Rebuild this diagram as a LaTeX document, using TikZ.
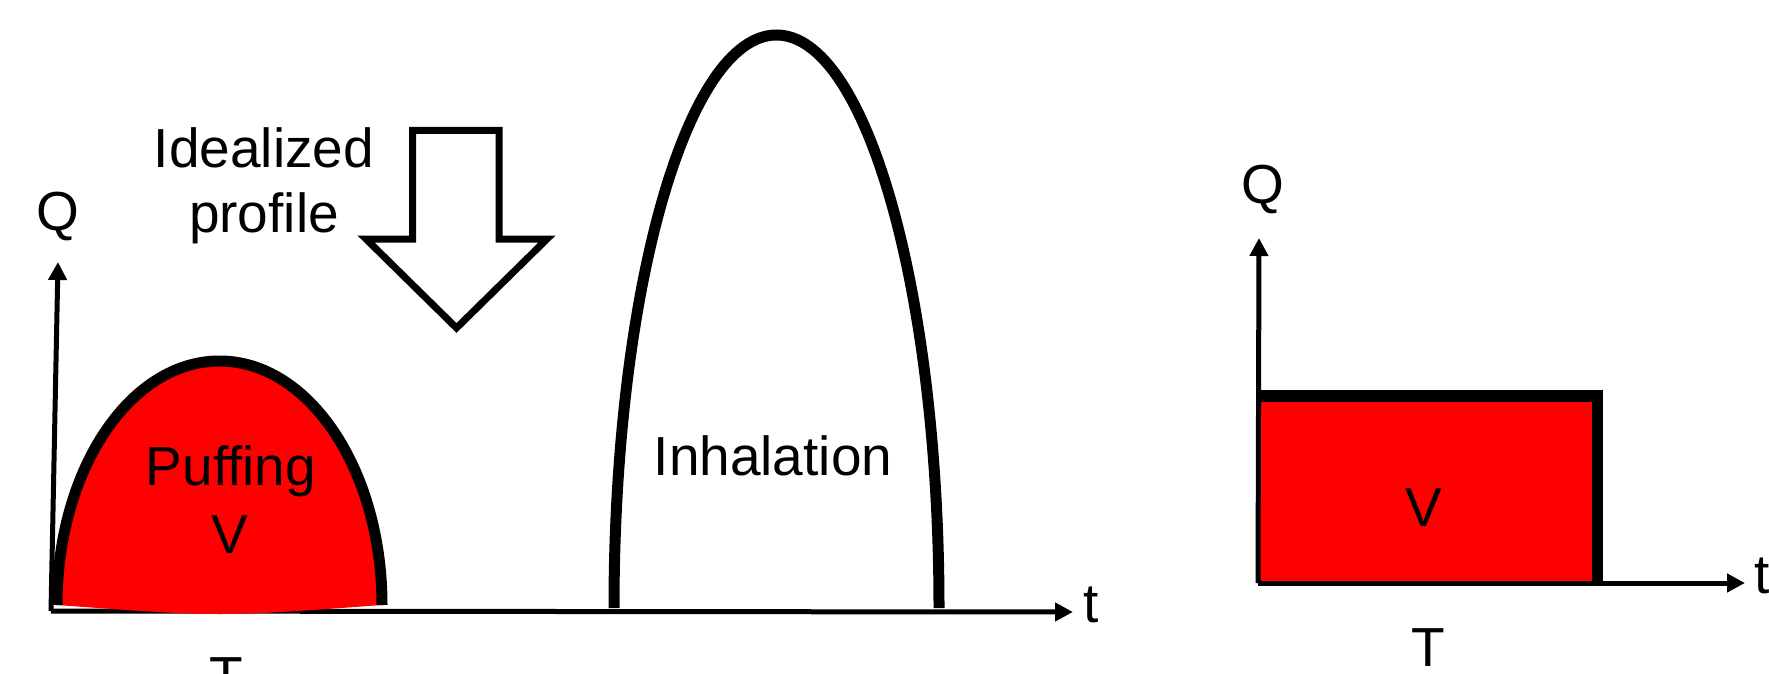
\documentclass[tikz,border=0pt]{standalone}
\usepackage{fontspec}
\setmainfont{Liberation Sans}
\usetikzlibrary{arrows.meta}
\definecolor{puffred}{RGB}{255,0,0}
\tikzset{
  axis/.style={line width=5pt, -{Triangle[length=18pt,width=18pt]}},
  curve/.style={line width=11pt, line cap=butt},
  bigtext/.style={font=\fontsize{55}{66}\selectfont, anchor=base, inner sep=0pt, outer sep=0pt},
  hollow/.style={line width=7pt, line join=miter, fill=white}
}
\begin{document}
\begin{tikzpicture}[x=1pt,y=-1pt]
\useasboundingbox (0,0) rectangle (1769,674);
\clip (0,0) rectangle (1769,674);
\fill[white] (0,0) rectangle (1769,674);

% ---------- left panel ----------
\coordinate (O1) at (51,611);
\coordinate (Ytip1) at (58,262);
\coordinate (Xtip1) at (1073,612);
\draw[axis] (O1) -- (Ytip1);
\draw[axis] (O1) -- (Xtip1);

% puffing (red half ellipse)
\coordinate (pL) at (57,605);
\coordinate (pR) at (382,605);
\fill[puffred] (pL) arc[start angle=180,end angle=0,x radius=162.5pt,y radius=244pt]
   .. controls (220,617) .. (pL) -- cycle;
\draw[curve] (pL) arc[start angle=180,end angle=0,x radius=162.5pt,y radius=244pt];

% inhalation
\coordinate (iL) at (614,608);
\draw[curve] (iL) arc[start angle=180,end angle=0,x radius=162.5pt,y radius=573pt];

% hollow arrow
\draw[hollow] (412.5,130.5) -- (499,130.5) -- (499,239) -- (547,239) -- (456.5,328)
   -- (366,239) -- (412.5,239) -- cycle;

% labels
\node[bigtext] (Q1) at (58,230) {Q};
\node[bigtext] (ideal) at (264,167) {Idealized};
\node[bigtext] (prof) at (264,232) {profile};
\node[bigtext] (puff) at (231,485) {Puffing};
\node[bigtext] (V1) at (230,553) {V};
\node[bigtext] (T1) at (226,695) {T};
\node[bigtext] (inh) at (773,475) {Inhalation};
\node[bigtext] (t1) at (1091,622) {t};

% ---------- right panel ----------
\coordinate (O2) at (1258,583);
\coordinate (Ytip2) at (1259,238);
\coordinate (Xtip2) at (1745,583);
\fill[puffred] (1259,396) rectangle (1597.5,582);
\draw[axis] (O2) -- (Ytip2);
\draw[axis] (O2) -- (Xtip2);
\draw[line width=11.5pt, line join=miter] (1258,396) -- (1597.5,396) -- (1597.5,582);

\node[bigtext] (Q2) at (1263,203) {Q};
\node[bigtext] (V2) at (1424,526) {V};
\node[bigtext] (T2) at (1428,666) {T};
\node[bigtext] (t2) at (1762,593) {t};
\end{tikzpicture}
\end{document}
